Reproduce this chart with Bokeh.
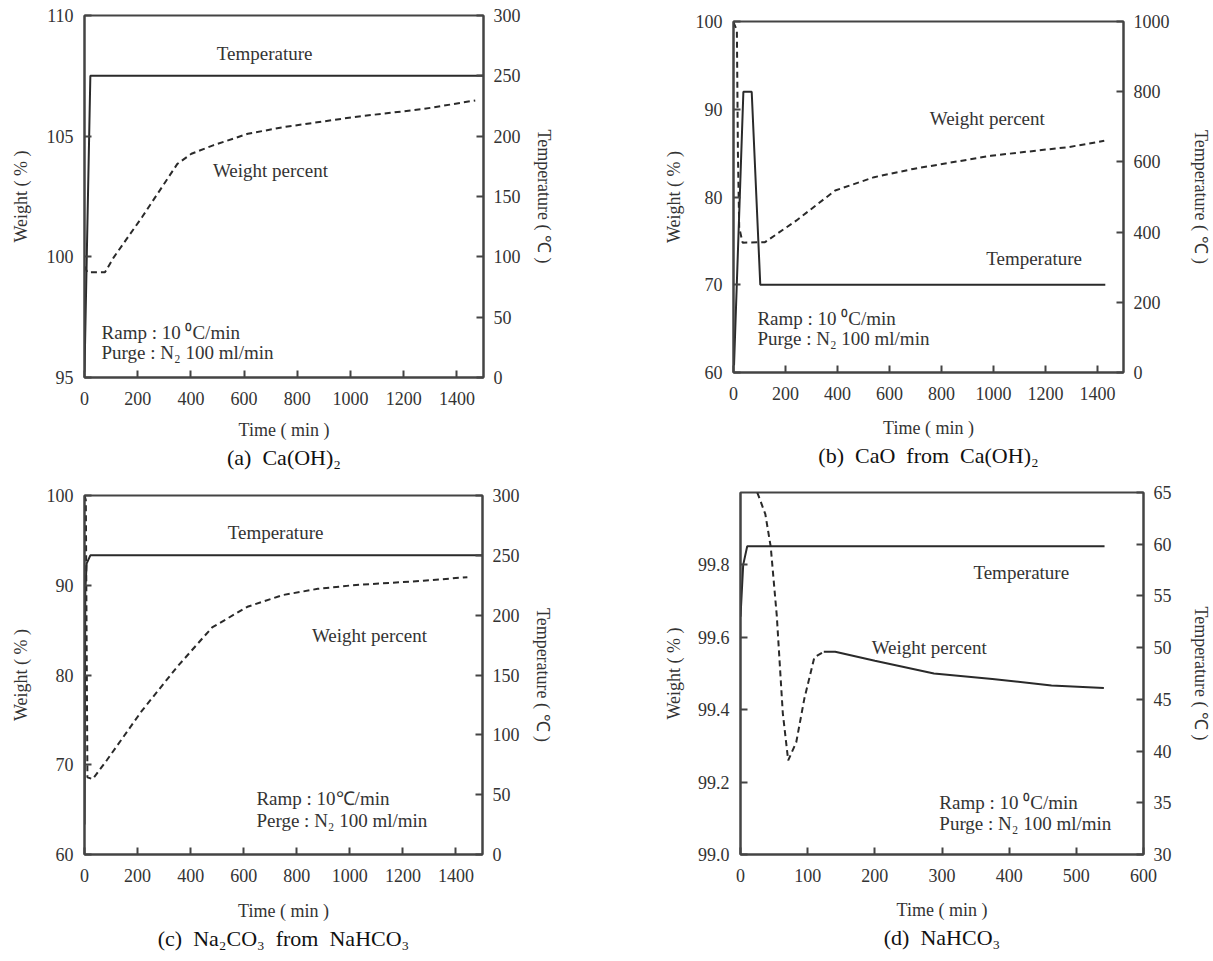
from bokeh.plotting import figure
from bokeh.models import Range1d, LinearAxis, FixedTicker, Label, Title, PrintfTickFormatter
from bokeh.layouts import column, row
from bokeh.embed import file_html
from bokeh.resources import INLINE

FONT = "Liberation Serif"
TXT = "#333333"
LINE = "#2a2a2a"
AX = "#444444"
NB = "\u00a0"

# ---------------- data ----------------
# (a) Ca(OH)2
a_time_T = [0, 22, 1500]
a_temp = [5, 250, 250]
a_time_w = [0, 11, 77, 110, 216, 349, 402, 481, 614, 746, 1011, 1277, 1469]
a_weight = [99.6, 99.36, 99.36, 99.98, 101.64, 103.85, 104.27, 104.61, 105.10, 105.37, 105.79, 106.13, 106.48]

# (b) CaO from Ca(OH)2
b_time_T = [2, 38, 70, 103, 1430]
b_temp = [20, 800, 800, 250, 250]
b_time_w = [0, 13, 17, 22, 35, 121, 241, 391, 541, 691, 990, 1291, 1426]
b_weight = [99.9, 99.0, 85.0, 76.5, 74.8, 74.85, 77.3, 80.74, 82.26, 83.2, 84.7, 85.7, 86.4]

# (c) Na2CO3 from NaHCO3
c_time_T = [0, 3, 8, 22, 1500]
c_temp = [25, 220, 243, 250, 250]
c_time_w = [0, 5, 11, 31, 84, 216, 349, 481, 614, 746, 879, 1011, 1277, 1443]
c_weight = [100, 99.5, 68.6, 68.4, 70.5, 76.0, 80.9, 85.3, 87.6, 88.9, 89.6, 90.0, 90.5, 90.9]

# (d) NaHCO3
d_time_T = [0, 4, 10, 542]
d_temp = [53, 58, 59.8, 59.8]
d_time_w = [0, 25, 37, 45, 54, 63, 71, 83, 95, 110, 124, 141, 200, 288, 375, 463, 541]
d_weight = [100.1, 100.0, 99.94, 99.85, 99.66, 99.39, 99.26, 99.31, 99.43, 99.545, 99.56, 99.56,
            99.535, 99.50, 99.485, 99.467, 99.46]
d_split = 10

# tick values
a_xticks = [0, 200, 400, 600, 800, 1000, 1200, 1400]
a_yticks = [95, 100, 105, 110]
a_tticks = [0, 50, 100, 150, 200, 250, 300]
b_xticks = [0, 200, 400, 600, 800, 1000, 1200, 1400]
b_yticks = [60, 70, 80, 90, 100]
b_tticks = [0, 200, 400, 600, 800, 1000]
c_xticks = [0, 200, 400, 600, 800, 1000, 1200, 1400]
c_yticks = [60, 70, 80, 90, 100]
c_tticks = [0, 50, 100, 150, 200, 250, 300]
d_xticks = [0, 100, 200, 300, 400, 500, 600]
d_yticks = [99.0, 99.2, 99.4, 99.6, 99.8]
d_tticks = [30, 35, 40, 45, 50, 55, 60, 65]


def style_axis(ax, ticks, standoff, lstand):
    ax.ticker = FixedTicker(ticks=ticks)
    ax.axis_line_color = AX
    ax.axis_line_width = 2
    ax.major_tick_in = 7
    ax.major_tick_out = 0
    ax.minor_tick_in = 0
    ax.minor_tick_out = 0
    ax.major_tick_line_color = AX
    ax.major_tick_line_width = 2
    ax.major_label_text_font = FONT
    ax.major_label_text_font_size = "18px"
    ax.major_label_text_color = TXT
    ax.major_label_standoff = lstand
    ax.axis_label_text_font = FONT
    ax.axis_label_text_font_size = "18px"
    ax.axis_label_text_font_style = "normal"
    ax.axis_label_text_color = TXT
    ax.axis_label_standoff = standoff


def panel(w, h, bl, br, bt, bb, xmax, ylo, yhi, tlo, thi, xt, yt, tt, xstand, lstand, rstand, cap):
    p = figure(width=w, height=h, x_range=Range1d(0, xmax), y_range=Range1d(ylo, yhi),
               output_backend="svg", toolbar_location=None, frame_align=False,
               min_border_left=bl, min_border_right=br, min_border_top=bt, min_border_bottom=bb)
    p.extra_y_ranges = {"temp": Range1d(tlo, thi)}
    p.xgrid.grid_line_color = None
    p.ygrid.grid_line_color = None
    p.outline_line_color = AX
    p.outline_line_width = 2
    p.background_fill_color = "white"
    p.border_fill_color = "white"
    xa = p.xaxis[0]
    xa.axis_label = "Time ( min )"
    style_axis(xa, xt, xstand, 14)
    ya = p.yaxis[0]
    ya.axis_label = "Weight ( % )"
    style_axis(ya, yt, lstand, 11)
    ra = LinearAxis(y_range_name="temp", axis_label="Temperature ( ℃ )")
    style_axis(ra, tt, rstand, 10)
    p.add_layout(ra, "right")
    p.add_layout(Title(text=cap, align="center", text_font=FONT, text_font_size="22px",
                       text_font_style="normal", text_color="#111111", standoff=0), "below")
    return p


def lab(p, x, y, text, align="center"):
    p.add_layout(Label(x=x, y=y, text=text, text_font=FONT, text_font_size="19px",
                       text_color=TXT, text_align=align, text_baseline="middle"))


# (a)
pa = panel(600, 480, 84, 117, 15, 103, 1500, 95, 110, 0, 300,
           a_xticks, a_yticks, a_tticks, 12, 13, 10, "(a)" + NB * 2 + "Ca(OH)₂")
pa.line(a_time_T, a_temp, y_range_name="temp", line_color=LINE, line_width=2)
pa.line(a_time_w, a_weight, line_color=LINE, line_width=2, line_dash="6 4")
lab(pa, 677, 108.43, "Temperature")
lab(pa, 699, 103.58, "Weight percent")
lab(pa, 64, 96.86, "Ramp : 10 ⁰C/min", "left")
lab(pa, 64, 96.04, "Purge : N₂ 100 ml/min", "left")

# (b)
pb = panel(613, 480, 133, 88, 21, 108, 1500, 60, 100, 0, 1000,
           b_xticks, b_yticks, b_tticks, 15, 9, 18,
           "(b)" + NB * 2 + "CaO" + NB * 2 + "from" + NB * 2 + "Ca(OH)₂")
pb.line(b_time_T, b_temp, y_range_name="temp", line_color=LINE, line_width=2)
pb.line(b_time_w, b_weight, line_color=LINE, line_width=2, line_dash="6 4")
lab(pb, 976, 88.95, "Weight percent")
lab(pb, 1156, 72.99, "Temperature")
lab(pb, 92, 66.15, "Ramp : 10 ⁰C/min", "left")
lab(pb, 92, 63.87, "Purge : N₂ 100 ml/min", "left")

# (c)
pc = panel(600, 481, 84, 118, 15, 107, 1500, 60, 100, 0, 300,
           c_xticks, c_yticks, c_tticks, 16, 13, 10,
           "(c)" + NB * 2 + "Na₂CO₃" + NB * 2 + "from" + NB * 2 + "NaHCO₃")
pc.line(c_time_T, c_temp, y_range_name="temp", line_color=LINE, line_width=2)
pc.line(c_time_w, c_weight, line_color=LINE, line_width=2, line_dash="6 4")
lab(pc, 720, 95.88, "Temperature")
lab(pc, 1074, 84.40, "Weight percent")
lab(pc, 648, 66.24, "Ramp : 10℃/min", "left")
lab(pc, 648, 63.79, "Perge : N₂ 100 ml/min", "left")

# (d)
pd_ = panel(613, 481, 140, 70, 12, 107, 600, 99.0, 100.0, 30, 65,
            d_xticks, d_yticks, d_tticks, 15, 11, 16, "(d)" + NB * 2 + "NaHCO₃")
pd_.yaxis[0].formatter = PrintfTickFormatter(format="%.1f")
pd_.line(d_time_T, d_temp, y_range_name="temp", line_color=LINE, line_width=2)
pd_.line(d_time_w[:d_split + 1], d_weight[:d_split + 1], line_color=LINE, line_width=2, line_dash="6 4")
pd_.line(d_time_w[d_split:], d_weight[d_split:], line_color=LINE, line_width=2)
lab(pd_, 418, 99.779, "Temperature")
lab(pd_, 281, 99.572, "Weight percent")
lab(pd_, 296, 99.144, "Ramp : 10 ⁰C/min", "left")
lab(pd_, 296, 99.086, "Purge : N₂ 100 ml/min", "left")

layout = column(row(pa, pb), row(pc, pd_))
open("out.html", "w").write(file_html(layout, INLINE))
